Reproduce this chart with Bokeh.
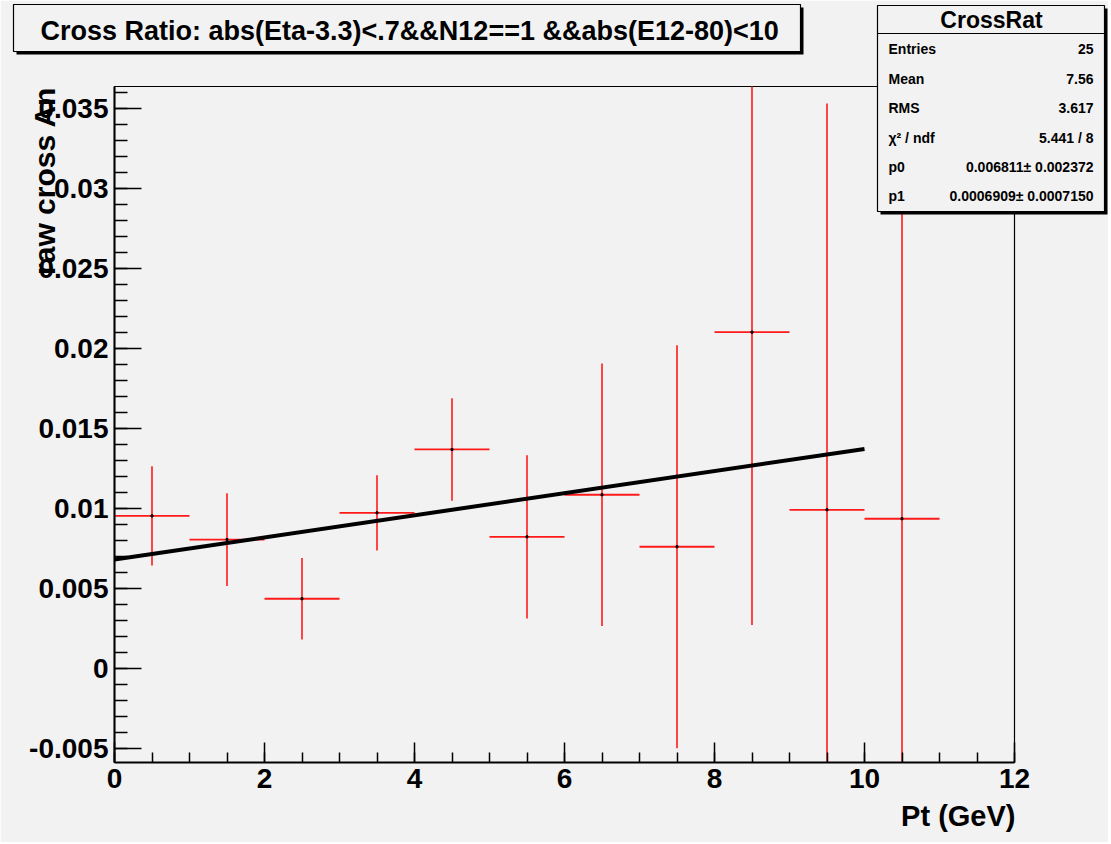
import numpy as np
from bokeh.plotting import figure
from bokeh.layouts import column, row
from bokeh.models import FixedTicker, Range1d, ColumnDataSource
from bokeh.core.properties import value
from bokeh.embed import file_html
from bokeh.resources import INLINE

# ---------------- data ----------------
bin_centers = [0.5, 1.5, 2.5, 3.5, 4.5, 5.5, 6.5, 7.5, 8.5, 9.5, 10.5]
bin_halfwidth = [0.5] * 11
ratio_values = [0.00954, 0.00806, 0.00436, 0.00973, 0.01369, 0.00823,
                0.01086, 0.00761, 0.02102, 0.00992, 0.00936]
ratio_errors = [0.0031, 0.0029, 0.00255, 0.00235, 0.0032, 0.0051,
                0.0082, 0.0126, 0.0183, 0.0254, 0.030]

fit_p0 = 0.006811
fit_p1 = 0.0006909
fit_x = [0.0, 10.0]

x_ticks = [0, 2, 4, 6, 8, 10, 12]
x_tick_labels = ["0", "2", "4", "6", "8", "10", "12"]
y_ticks = [-0.005, 0.0, 0.005, 0.01, 0.015, 0.02, 0.025, 0.03, 0.035]
y_tick_labels = ["-0.005", "0", "0.005", "0.01", "0.015", "0.02", "0.025", "0.03", "0.035"]

title_text = "Cross Ratio: abs(Eta-3.3)<.7&&N12==1 &&abs(E12-80)<10"
x_label_text = "Pt (GeV)"
y_label_text = "raw cross An"

stats_title = "CrossRat"
stats_names = ["Entries", "Mean", "RMS", "\u03c7\u00b2 / ndf", "p0", "p1"]
stats_values = ["25", "7.56", "3.617", "5.441 / 8",
                "0.006811\u00b1 0.002372", "0.0006909\u00b1 0.0007150"]

# ---------------- geometry (canvas pixels) ----------------
W, H = 1108, 842
FRAME_L, FRAME_R, FRAME_T, FRAME_B = 114, 1014, 86, 762
X_START, X_END = 0.0, 12.0
Y_START, Y_END = -0.005875, 0.036375

BG = "#f2f2f2"
FONT = "Liberation Sans"

# ---------------- main plot ----------------
p = figure(width=W, height=H, output_backend="svg", toolbar_location=None,
           x_range=Range1d(X_START, X_END), y_range=Range1d(Y_START, Y_END),
           min_border_left=FRAME_L, min_border_right=W - FRAME_R,
           min_border_top=FRAME_T, min_border_bottom=H - FRAME_B)
p.background_fill_color = BG
p.border_fill_color = BG
p.outline_line_color = "black"
p.outline_line_width = 1.2
p.xgrid.visible = False
p.ygrid.visible = False

p.xaxis.ticker = FixedTicker(ticks=x_ticks, minor_ticks=list(np.arange(0, 12.01, 0.5)))
p.xaxis.major_label_overrides = dict(zip(x_ticks, x_tick_labels))
p.yaxis.ticker = FixedTicker(ticks=y_ticks, minor_ticks=list(np.round(np.arange(-0.005, 0.0361, 0.001), 4)))
p.yaxis.major_label_overrides = dict(zip(y_ticks, y_tick_labels))
for ax in (p.xaxis, p.yaxis):
    ax.axis_line_width = 2
    ax.axis_line_color = "black"
    ax.major_tick_out = 0
    ax.minor_tick_out = 0
    ax.major_tick_line_color = "black"
    ax.minor_tick_line_color = "black"
    ax.major_tick_line_width = 1.5
    ax.minor_tick_line_width = 1.5
    ax.major_label_text_font = FONT
    ax.major_label_text_font_style = "bold"
    ax.major_label_text_font_size = "28px"
    ax.major_label_text_color = "black"
p.xaxis.major_tick_in = 20
p.xaxis.minor_tick_in = 10
p.yaxis.major_tick_in = 27
p.yaxis.minor_tick_in = 13
p.xaxis.major_label_standoff = 6
p.yaxis.major_label_standoff = 6

src = ColumnDataSource(dict(
    x=bin_centers,
    y=ratio_values,
    x0=[c - h for c, h in zip(bin_centers, bin_halfwidth)],
    x1=[c + h for c, h in zip(bin_centers, bin_halfwidth)],
    ylo=[v - e for v, e in zip(ratio_values, ratio_errors)],
    yhi=[v + e for v, e in zip(ratio_values, ratio_errors)],
))
p.segment(x0="x0", y0="y", x1="x1", y1="y", source=src, line_color="#ff1a1a", line_width=1.8)
p.segment(x0="x", y0="ylo", x1="x", y1="yhi", source=src, line_color="#ff1a1a", line_width=1.6)
p.scatter(x="x", y="y", source=src, marker="square", size=2, color="black")

fit_y = [fit_p0 + fit_p1 * x for x in fit_x]
p.line(fit_x, fit_y, line_color="black", line_width=4)

# ---------------- overlay (pixel canvas, y from top) for boxes and texts ----------------
o = figure(width=W, height=H, output_backend="svg", toolbar_location=None,
           x_range=Range1d(0, W), y_range=Range1d(H, 0),
           x_axis_location=None, y_axis_location=None,
           min_border=0, min_border_left=0, min_border_right=0,
           min_border_top=0, min_border_bottom=0)
o.background_fill_alpha = 0
o.border_fill_alpha = 0
o.outline_line_color = None
o.xgrid.visible = False
o.ygrid.visible = False

SB_L, SB_R, SB_T, SB_B = 877, 1104, 5, 211
TB_L, TB_R, TB_T, TB_B = 13, 800, 4, 51
o.quad(left=[TB_L + 3, SB_L + 3], right=[TB_R + 3, SB_R + 3],
       top=[TB_T + 3, SB_T + 3], bottom=[TB_B + 3, SB_B + 3],
       fill_color="black", line_color=None)
o.quad(left=[TB_L, SB_L], right=[TB_R, SB_R], top=[TB_T, SB_T], bottom=[TB_B, SB_B],
       fill_color=BG, line_color="black", line_width=1.2)
o.segment(x0=[SB_L], y0=[33], x1=[SB_R], y1=[33], line_color="black", line_width=1.2)

o.text(x=[40], y=[30], text=[title_text], text_align="left", text_baseline="middle",
       text_font=value(FONT), text_font_style="bold", text_font_size="27px", text_color="black")
o.text(x=[1015], y=[815], text=[x_label_text], text_align="right", text_baseline="middle",
       text_font=value(FONT), text_font_style="bold", text_font_size="29px", text_color="black")
o.text(x=[44], y=[86], text=[y_label_text], angle=np.pi / 2, text_align="right",
       text_baseline="middle", text_font=value(FONT), text_font_style="bold",
       text_font_size="30px", text_color="black")
o.text(x=[991], y=[19], text=[stats_title], text_align="center", text_baseline="middle",
       text_font=value(FONT), text_font_style="bold", text_font_size="23px", text_color="black")
row_y = [48, 78, 107, 137, 166, 195]
o.text(x=[888] * len(stats_names), y=row_y, text=stats_names, text_align="left",
       text_baseline="middle", text_font=value(FONT), text_font_style="bold",
       text_font_size="14px", text_color="black")
o.text(x=[1093] * len(stats_values), y=row_y, text=stats_values, text_align="right",
       text_baseline="middle", text_font=value(FONT), text_font_style="bold",
       text_font_size="14px", text_color="black")

overlay_row = row(o, margin=(-H, 0, 0, 0))
layout = column(row(p), overlay_row, spacing=0)
open("out.html", "w").write(file_html(layout, INLINE))
